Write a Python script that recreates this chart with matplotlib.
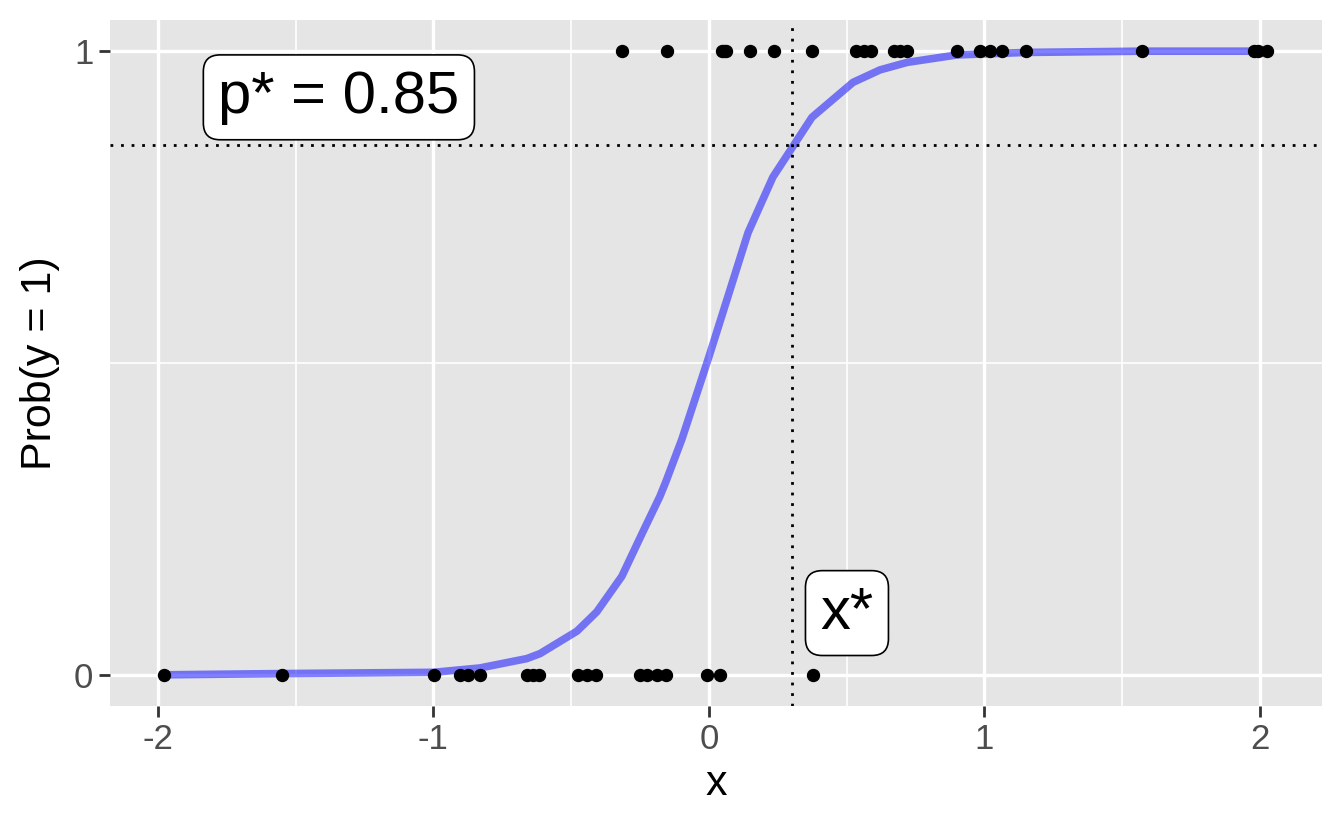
from matplotlib import pyplot as plt

x_one = [-0.316, -0.152, 0.047, 0.055, 0.063, 0.149, 0.236, 0.374, 0.534, 0.563, 0.588,
         0.672, 0.693, 0.719, 0.900, 0.984, 1.020, 1.063, 1.151, 1.572, 1.978, 1.993, 2.024]
x_zero = [-1.978, -1.550, -0.998, -0.904, -0.875, -0.831, -0.661, -0.639, -0.617,
          -0.475, -0.443, -0.410, -0.250, -0.225, -0.189, -0.156, -0.007, 0.040, 0.377]

# fitted probability curve (read at the kinks of the line)
curve_x = [-1.978, -1.550, -0.998, -0.831, -0.661, -0.613, -0.479, -0.407, -0.316, -0.240,
           -0.178, -0.156, -0.098, 0.000, 0.040, 0.142, 0.232, 0.374, 0.523, 0.621, 0.719,
           0.900, 1.151, 1.572, 2.024]
curve_p = [0.000, 0.002, 0.004, 0.011, 0.026, 0.034, 0.070, 0.101, 0.158, 0.229,
           0.286, 0.310, 0.378, 0.510, 0.566, 0.709, 0.798, 0.894, 0.950, 0.970, 0.982,
           0.994, 0.998, 1.000, 1.000]

p_star = 0.85
x_star = 0.30

fonts = ['Liberation Sans', 'DejaVu Sans']

fig = plt.figure(figsize=(13.44, 8.3), dpi=100)
ax = fig.add_axes([0.0818, 0.1494, 0.9018, 0.8265])
ax.set_facecolor('#E5E5E5')
for s in ax.spines.values():
    s.set_visible(False)

ax.set_xlim(-2.174, 2.225)
ax.set_ylim(-0.05, 1.05)
ax.set_xticks([-2, -1, 0, 1, 2])
ax.set_xticks([-1.5, -0.5, 0.5, 1.5], minor=True)
ax.set_yticks([0, 1])
ax.set_yticks([0.5], minor=True)
ax.set_xticklabels(['-2', '-1', '0', '1', '2'])
ax.set_yticklabels(['0', '1'])

ax.grid(True, which='major', color='white', linewidth=2.4)
ax.grid(True, which='minor', color='white', linewidth=1.2)
ax.set_axisbelow(True)
ax.tick_params(which='major', length=7.9, width=2.0, color='#333333',
               labelsize=25, labelcolor='#4D4D4D', pad=4)
ax.tick_params(which='minor', length=0)

ax.plot(curve_x, curve_p, color='blue', alpha=0.5, linewidth=5.5, solid_capstyle='butt', zorder=2)
ax.plot(x_one, [1] * len(x_one), 'o', color='black', markersize=8.6, zorder=3)
ax.plot(x_zero, [0] * len(x_zero), 'o', color='black', markersize=8.6, zorder=3)

ax.axhline(p_star, color='black', linewidth=2.0, linestyle=(0, (1, 2.8)), zorder=2.5)
ax.axvline(x_star, color='black', linewidth=2.0, linestyle=(0, (1, 2.8)), zorder=2.5)

box = dict(boxstyle='round,pad=0.25,rounding_size=0.28', facecolor='white', edgecolor='black', linewidth=1.2)
ax.text(-1.343, 0.926, 'p* = 0.85', fontsize=43, ha='center', va='center',
        family=fonts, bbox=box, zorder=4)
ax.text(0.501, 0.099, 'x*', fontsize=43, ha='center', va='center',
        family=fonts, bbox=box, zorder=4)

ax.set_xlabel('x', fontsize=31, labelpad=6)
ax.set_ylabel('Prob(y = 1)', fontsize=31, labelpad=10)

for t in ax.get_xticklabels() + ax.get_yticklabels():
    t.set_family(fonts)
ax.xaxis.label.set_family(fonts)
ax.yaxis.label.set_family(fonts)

fig.savefig('out.png', dpi=100)
